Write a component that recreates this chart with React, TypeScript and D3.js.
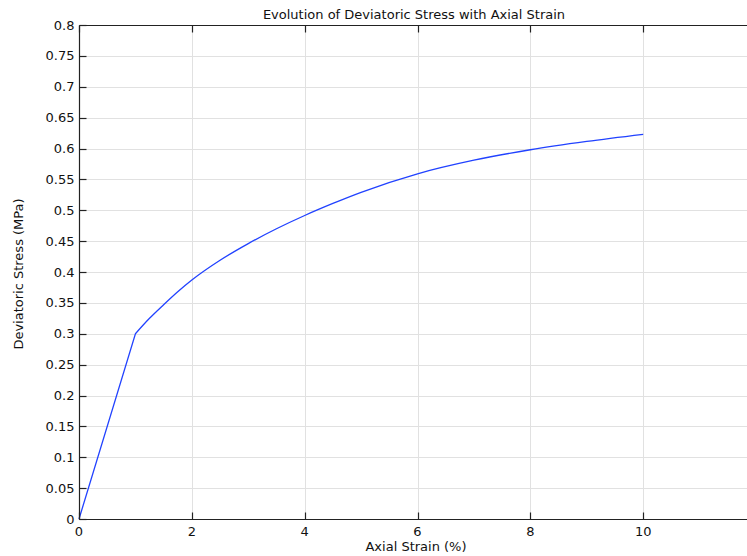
import React, { useRef, useEffect } from "react";
import * as d3 from "d3";

// values
const strain = [0, 1, 1.25, 1.5, 1.75, 2, 2.5, 3, 3.5, 4, 4.5, 5, 6, 7, 8, 9, 10];
const stress = [0, 0.3, 0.325, 0.347, 0.368, 0.387, 0.419, 0.446, 0.47, 0.4915, 0.511, 0.529, 0.559, 0.581, 0.598, 0.6115, 0.623];
const xTicks = [0, 2, 4, 6, 8, 10];
const yTicks = d3.range(0, 17).map((i) => +(i * 0.05).toFixed(2));

const W = 747;
const H = 556;

export default function App() {
  const svgRef = useRef<SVGSVGElement>(null);

  useEffect(() => {
    const svg = d3.select(svgRef.current);
    svg.selectAll("*").remove();

    const margin = { top: 25, right: 0, bottom: 37, left: 79 };
    const x = d3.scaleLinear().domain([0, 11.84]).range([margin.left, W - margin.right]);
    const y = d3.scaleLinear().domain([0, 0.8]).range([H - margin.bottom, margin.top]);
    const font = "DejaVu Sans, sans-serif";

    // grid
    const grid = svg.append("g").attr("stroke", "#e1e1e1").attr("stroke-width", 1);
    grid
      .selectAll("line.h")
      .data(yTicks.slice(1, -1))
      .join("line")
      .attr("x1", x(0))
      .attr("x2", W)
      .attr("y1", (d) => Math.round(y(d)) + 0.5)
      .attr("y2", (d) => Math.round(y(d)) + 0.5);
    grid
      .selectAll("line.v")
      .data(xTicks.slice(1))
      .join("line")
      .attr("y1", y(0))
      .attr("y2", y(0.8))
      .attr("x1", (d) => Math.round(x(d)) + 0.5)
      .attr("x2", (d) => Math.round(x(d)) + 0.5);

    // curve: straight elastic part then smooth hardening part
    const pts = strain.map((s, i) => [s, stress[i]] as [number, number]);
    const lin = d3.line().x((d) => x(d[0])).y((d) => y(d[1]));
    const smooth = d3.line().curve(d3.curveMonotoneX).x((d) => x(d[0])).y((d) => y(d[1]));
    svg
      .append("path")
      .attr("d", lin(pts.slice(0, 2)) + "" + smooth(pts.slice(1)).replace(/^M/, "L"))
      .attr("fill", "none")
      .attr("stroke", "#2142ff")
      .attr("stroke-width", 1.3);

    // axes frame
    const ax = svg.append("g").attr("stroke", "#222").attr("stroke-width", 1.2);
    const x0 = Math.round(x(0)) + 0.5;
    const yb = Math.round(y(0)) + 0.5;
    const yt = Math.round(y(0.8)) + 0.5;
    ax.append("line").attr("x1", x0).attr("x2", x0).attr("y1", yt).attr("y2", yb);
    ax.append("line").attr("x1", x0).attr("x2", W).attr("y1", yb).attr("y2", yb);
    ax.append("line").attr("x1", x0).attr("x2", W).attr("y1", yt).attr("y2", yt);

    // ticks
    ax.selectAll("line.yt")
      .data(yTicks)
      .join("line")
      .attr("x1", x0)
      .attr("x2", x0 + 7)
      .attr("y1", (d) => Math.round(y(d)) + 0.5)
      .attr("y2", (d) => Math.round(y(d)) + 0.5);
    ax.selectAll("line.xb")
      .data(xTicks)
      .join("line")
      .attr("x1", (d) => Math.round(x(d)) + 0.5)
      .attr("x2", (d) => Math.round(x(d)) + 0.5)
      .attr("y1", yb)
      .attr("y2", yb - 7);
    ax.selectAll("line.xt")
      .data(xTicks)
      .join("line")
      .attr("x1", (d) => Math.round(x(d)) + 0.5)
      .attr("x2", (d) => Math.round(x(d)) + 0.5)
      .attr("y1", yt)
      .attr("y2", yt + 7);

    // tick labels
    svg
      .append("g")
      .selectAll("text")
      .data(yTicks)
      .join("text")
      .attr("x", x0 - 5)
      .attr("y", (d) => y(d) + 4.5)
      .attr("text-anchor", "end")
      .attr("font-family", font)
      .attr("font-size", 13)
      .attr("fill", "#111")
      .text((d) => String(d));
    svg
      .append("g")
      .selectAll("text")
      .data(xTicks)
      .join("text")
      .attr("x", (d) => x(d))
      .attr("y", 536)
      .attr("text-anchor", "middle")
      .attr("font-family", font)
      .attr("font-size", 13)
      .attr("fill", "#111")
      .text((d) => String(d));

    // titles
    svg
      .append("text")
      .attr("x", 414)
      .attr("y", 19)
      .attr("text-anchor", "middle")
      .attr("font-family", font)
      .attr("font-size", 13)
      .attr("fill", "#111")
      .text("Evolution of Deviatoric Stress with Axial Strain");
    svg
      .append("text")
      .attr("x", 416)
      .attr("y", 551)
      .attr("text-anchor", "middle")
      .attr("font-family", font)
      .attr("font-size", 13)
      .attr("fill", "#111")
      .text("Axial Strain (%)");
    svg
      .append("text")
      .attr("transform", `translate(23,274) rotate(-90)`)
      .attr("text-anchor", "middle")
      .attr("font-family", font)
      .attr("font-size", 13)
      .attr("fill", "#111")
      .text("Deviatoric Stress (MPa)");
  }, []);

  return (
    <svg
      ref={svgRef}
      width={W}
      height={H}
      style={{ position: "absolute", left: 0, top: 0, background: "#fff" }}
    ></svg>
  );
}
